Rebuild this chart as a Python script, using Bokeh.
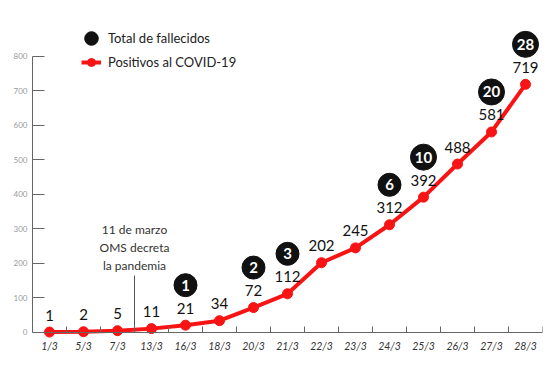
from bokeh.plotting import figure
from bokeh.models import Range1d, FixedTicker, LinearAxis, Legend, LegendItem, Label
from bokeh.core.properties import value
from bokeh.embed import file_html
from bokeh.resources import INLINE

# ---- data ----
fechas = ["1/3", "5/3", "7/3", "13/3", "16/3", "18/3", "20/3", "21/3",
          "22/3", "23/3", "24/3", "25/3", "26/3", "27/3", "28/3"]
positivos = [1, 2, 5, 11, 21, 34, 72, 112, 202, 245, 312, 392, 488, 581, 719]
fallecidos = [None, None, None, None, 1, None, 2, 3, None, None, 6, 10, None, 20, 28]
y_ticks = [0, 100, 200, 300, 400, 500, 600, 700, 800]
annot_text = "11 de marzo\nOMS decreta\nla pandemia"
annot_pos = 2.5      # between 7/3 and 13/3
annot_top = 165

# ---- layout ----
FONT = "Lato"
RED = "#f81414"
W, H = 544, 354
BORDER_L, BORDER_R = 32, 2
Y0, Y1 = -64, 962
FRAME_H = H
px_per_unit = FRAME_H / (Y1 - Y0)

idx = list(range(len(fechas)))

p = figure(width=W, height=H,
           x_range=Range1d(-0.5, len(fechas) - 0.5), y_range=Range1d(Y0, Y1),
           x_axis_type=None, y_axis_type=None,
           output_backend="svg", toolbar_location=None,
           min_border_left=BORDER_L, min_border_right=BORDER_R,
           min_border_top=0, min_border_bottom=0)
p.outline_line_color = None
p.grid.visible = False
p.background_fill_color = "white"
p.border_fill_color = "white"

# axes
xax = LinearAxis(ticker=FixedTicker(ticks=idx, minor_ticks=[i + 0.5 for i in idx]),
                 major_label_overrides={i: f for i, f in enumerate(fechas)},
                 bounds=(-0.5, len(fechas) - 0.5), fixed_location=0)
xax.axis_line_color = "#666"
xax.major_tick_line_color = None
xax.minor_tick_line_color = "#666"
xax.minor_tick_in = 6
xax.minor_tick_out = 0
xax.major_label_standoff = 2
xax.major_label_text_font = FONT
xax.major_label_text_font_style = "italic"
xax.major_label_text_font_size = "10.5px"
xax.major_label_text_color = "#333"
p.add_layout(xax, "below")

yax = LinearAxis(ticker=FixedTicker(ticks=y_ticks, minor_ticks=[]), bounds=(0, 800))
yax.axis_line_color = "#666"
yax.major_tick_line_color = "#666"
yax.major_tick_in = 12
yax.major_tick_out = 0
yax.major_label_standoff = 5
yax.major_label_text_font = FONT
yax.major_label_text_font_size = "8px"
yax.major_label_text_color = "#999"
p.add_layout(yax, "left")

# annotation
p.segment(x0=[annot_pos], y0=[0], x1=[annot_pos], y1=[annot_top], line_color="#555", line_width=1)
p.add_layout(Label(x=annot_pos, y=annot_top, text=annot_text, text_align="center",
                   text_baseline="bottom", y_offset=2, text_font=FONT,
                   text_font_size="12px", text_color="#333"))

# positive line
line_r = p.line(idx, positivos, line_color=RED, line_width=4)
dot_r = p.scatter(idx, positivos, size=10, color=RED)
p.text(idx, positivos, text=[str(v) for v in positivos], text_align="center",
       text_baseline="middle", y_offset=-17, text_font=value(FONT),
       text_font_size="15px", text_color="#111")

# deaths
d_idx = [i for i, v in enumerate(fallecidos) if v is not None]
d_val = [fallecidos[i] for i in d_idx]
d_y = [positivos[i] + 40 / px_per_unit for i in d_idx]
d_size = [23 if v < 10 else 26 for v in d_val]
death_r = p.scatter(d_idx, d_y, size=d_size, color="#111")
p.text(d_idx, d_y, text=[str(v) for v in d_val], text_align="center",
       text_baseline="middle", text_font=value(FONT), text_font_style="bold",
       text_font_size="15px", text_color="white")

# legends (location in px from the frame's bottom-left)
common = dict(padding=0, margin=0, border_line_color=None, background_fill_alpha=0,
              label_text_font=FONT, label_text_font_size="13px", label_text_color="#222")
leg_a = Legend(items=[LegendItem(label="Total de fallecidos", renderers=[death_r])],
               location=(42, FRAME_H - 55), glyph_width=34, glyph_height=34,
               label_standoff=0, **common)
leg_b = Legend(items=[LegendItem(label="Positivos al COVID-19", renderers=[line_r, dot_r])],
               location=(49, FRAME_H - 72), glyph_width=20, glyph_height=20,
               label_standoff=7, **common)
p.add_layout(leg_a)
p.add_layout(leg_b)

open("out.html", "w").write(file_html(p, INLINE))
